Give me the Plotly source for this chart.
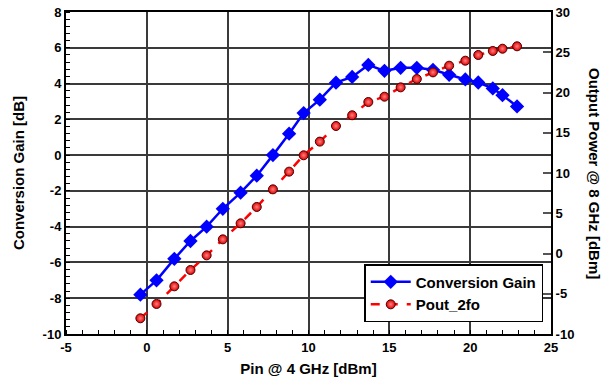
import plotly.graph_objects as go

pin = [-0.4, 0.6, 1.7, 2.7, 3.7, 4.7, 5.8, 6.8, 7.8, 8.8, 9.7, 10.7, 11.7, 12.7,
       13.7, 14.7, 15.7, 16.7, 17.7, 18.7, 19.7, 20.5, 21.4, 22.0, 22.9]
conv_gain = [-7.8, -7.0, -5.8, -4.8, -4.0, -3.0, -2.1, -1.15, 0.0, 1.2, 2.35, 3.1,
             4.05, 4.37, 5.04, 4.71, 4.88, 4.88, 4.77, 4.49, 4.23, 4.06, 3.73, 3.35, 2.72]
pout_2fo = [-8.05, -6.27, -4.08, -2.05, -0.23, 1.76, 3.75, 5.78, 7.97, 10.17, 12.2,
            13.9, 15.84, 17.17, 18.82, 19.48, 20.64, 21.68, 22.5, 23.33, 23.95,
            24.66, 25.16, 25.44, 25.74]

x_ticks = [-5, 0, 5, 10, 15, 20, 25]
x_ticktext = ["-5", "0", "5", "10", "15", "20", "25"]
y1_ticks = [-10, -8, -6, -4, -2, 0, 2, 4, 6, 8]
y1_ticktext = ["-10", "-8", "-6", "-4", "-2", "0", "2", "4", "6", "8"]
y2_ticks = [-10, -5, 0, 5, 10, 15, 20, 25, 30]
y2_ticktext = ["-10", "-5", "0", "5", "10", "15", "20", "25", "30"]


def bold(labels):
    return ["<b>%s</b>" % t for t in labels]


FONT = "Liberation Sans, Arial, sans-serif"
TICKFONT = dict(size=13, family=FONT, color="black", weight="bold")
TITLEFONT = dict(size=15, family=FONT, color="black", weight="bold")

fig = go.Figure()
fig.add_trace(go.Scatter(
    x=pin, y=conv_gain, name="Conversion Gain", mode="lines+markers",
    line=dict(color="#0000ff", width=2.5),
    marker=dict(symbol="diamond", size=11, color="#0000ff"),
    yaxis="y"))
fig.add_trace(go.Scatter(
    x=pin, y=pout_2fo, name="Pout_2fo", mode="lines+markers",
    line=dict(color="#ff0000", width=2.5, dash="dash"),
    marker=dict(symbol="circle", size=9, color="#e00000",
                gradient=dict(type="radial", color="#ff8080"),
                line=dict(color="#500000", width=1)),
    yaxis="y2"))

fig.update_layout(
    width=606, height=389,
    margin=dict(l=66, r=55, t=12, b=55, autoexpand=False),
    paper_bgcolor="white", plot_bgcolor="white",
    font=dict(family=FONT, size=13, color="black"),
    showlegend=True,
    legend=dict(x=0.984, y=0.037, xanchor="right", yanchor="bottom",
                bgcolor="white", bordercolor="black", borderwidth=1.5,
                font=TITLEFONT, tracegroupgap=0, itemwidth=40),
    xaxis=dict(range=[-5, 25], tickvals=x_ticks, ticktext=bold(x_ticktext),
               automargin=False, ticklabeloverflow="allow",
               showgrid=True, gridcolor="#3a3a3a", gridwidth=1.5,
               showline=True, linecolor="black", linewidth=2, mirror=True,
               ticks="", zeroline=False, tickfont=TICKFONT,
               minor=dict(ticks="inside", dtick=1, tick0=0, ticklen=4,
                          tickcolor="black", showgrid=False),
               title=dict(text="Pin @ 4 GHz [dBm]", font=TITLEFONT, standoff=10)),
    yaxis=dict(range=[-10, 8], tickvals=y1_ticks, ticktext=bold(y1_ticktext),
               automargin=False, ticklabeloverflow="allow",
               showgrid=True, gridcolor="#3a3a3a", gridwidth=1.5,
               showline=True, linecolor="black", linewidth=2, mirror=True,
               ticks="", zeroline=False, tickfont=TICKFONT,
               minor=dict(ticks="inside", dtick=0.4, tick0=-10, ticklen=4,
                          tickcolor="black", showgrid=False),
               title=dict(text="Conversion Gain [dB]", font=TITLEFONT, standoff=14)),
    yaxis2=dict(range=[-10, 30], tickvals=y2_ticks, ticktext=bold(y2_ticktext),
                overlaying="y", side="right", automargin=False,
                ticklabeloverflow="allow",
                showgrid=False, zeroline=False,
                showline=True, linecolor="black", linewidth=2,
                ticks="inside", ticklen=8, tickcolor="#555555", tickwidth=1.5,
                tickfont=TICKFONT),
    annotations=[dict(text="Output Power @ 8 GHz [dBm]", textangle=90,
                      xref="paper", yref="paper", x=1.0, y=0.5,
                      xanchor="center", yanchor="middle", xshift=44,
                      showarrow=False, font=TITLEFONT)],
)

fig.write_html("out.html", config={"displayModeBar": False},
               post_script="document.body.style.margin='0px';")
